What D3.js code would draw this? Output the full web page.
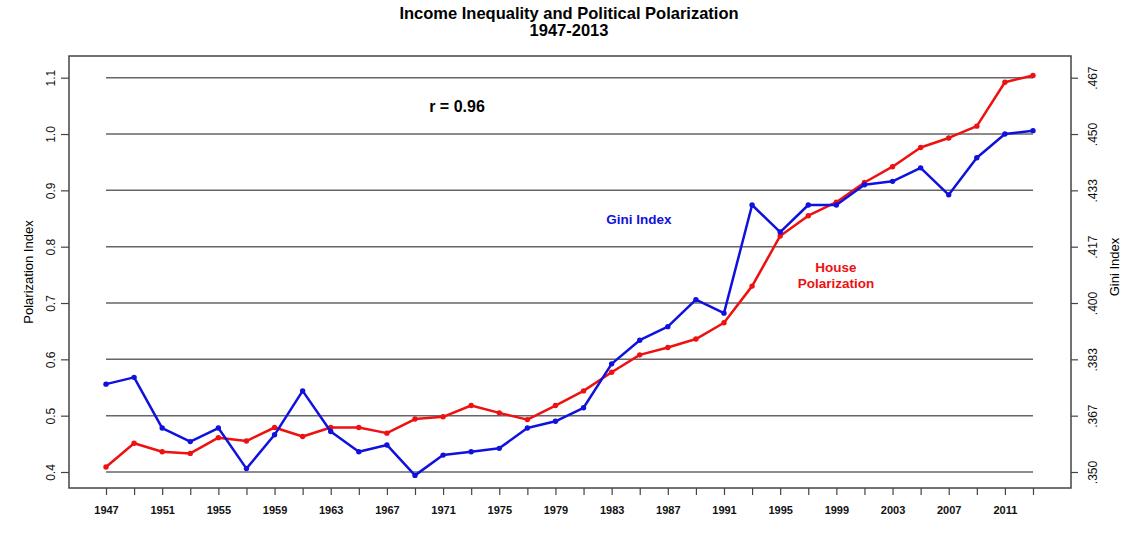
<!DOCTYPE html>
<html>
<head>
<meta charset="utf-8">
<script src="https://cdn.jsdelivr.net/npm/d3@7"></script>
<style>
  body { margin: 0; background: #fff; }
  text { font-family: "Liberation Sans", Arial, sans-serif; }
</style>
</head>
<body>
<div class="container"></div>
<script>
// data
const years = d3.range(1947, 2014, 2);
const polarization = [
  0.409, 0.451, 0.436, 0.433, 0.461, 0.455, 0.479, 0.463, 0.479, 0.479,
  0.469, 0.494, 0.498, 0.518, 0.505, 0.493, 0.518, 0.544, 0.577, 0.608,
  0.621, 0.636, 0.665, 0.730, 0.819, 0.855, 0.879, 0.914, 0.942, 0.976,
  0.993, 1.014, 1.092, 1.104
];
const gini = [
  0.376, 0.378, 0.363, 0.359, 0.363, 0.351, 0.361, 0.374, 0.362, 0.356,
  0.358, 0.349, 0.355, 0.356, 0.357, 0.363, 0.365, 0.369, 0.382, 0.389,
  0.393, 0.401, 0.397, 0.429, 0.421, 0.429, 0.429, 0.435, 0.436, 0.440,
  0.432, 0.443, 0.450, 0.451
];
const leftTicks = [0.4, 0.5, 0.6, 0.7, 0.8, 0.9, 1.0, 1.1];
const rightTicks = [0.35, 0.35 + 1 / 60, 0.35 + 2 / 60, 0.4, 0.4 + 1 / 60, 0.4 + 2 / 60, 0.45, 0.45 + 1 / 60];
const rightLabels = [".350", ".367", ".383", ".400", ".417", ".433", ".450", ".467"];
const xTicks = d3.range(1947, 2014, 2);

const W = 1140, H = 558;
const box = { left: 69, right: 1071, top: 56, bottom: 488 };

const svg = d3.select(".container")
  .append("svg")
  .attr("width", W)
  .attr("height", H);

const x = d3.scaleLinear().domain([1947, 2013]).range([106, 1033]);
const yL = d3.scaleLinear().domain([0.4, 1.1]).range([472, 77.7]);
const yR = d3.scaleLinear().domain([0.35, 0.35 + 0.7 / 6]).range([472, 77.7]);

// grid lines
svg.selectAll("line.grid")
  .data(leftTicks)
  .enter()
  .append("line")
  .attr("class", "grid")
  .attr("x1", x(1947))
  .attr("x2", x(2013))
  .attr("y1", (d) => yL(d))
  .attr("y2", (d) => yL(d))
  .attr("stroke", "#666")
  .attr("stroke-width", 1.5);

// box
svg.append("rect")
  .attr("x", box.left)
  .attr("y", box.top)
  .attr("width", box.right - box.left)
  .attr("height", box.bottom - box.top)
  .attr("fill", "none")
  .attr("stroke", "#444")
  .attr("stroke-width", 1.5);

let styleAxis = (g) => {
  g.select(".domain").remove();
  g.selectAll(".tick line").attr("stroke", "#444").attr("stroke-width", 1.2);
};

// bottom axis
let xAxis = svg.append("g")
  .attr("transform", `translate(0,${box.bottom})`)
  .call(d3.axisBottom(x).tickValues(xTicks).tickSize(7)
    .tickFormat((d) => ((d - 1947) % 4 === 0 && d < 2013 ? d : "")));
styleAxis(xAxis);
xAxis.selectAll(".tick text")
  .attr("y", 18)
  .attr("fill", "#111")
  .style("font-size", "11px")
  .style("font-weight", "bold");

// left axis
let lAxis = svg.append("g")
  .attr("transform", `translate(${box.left},0)`)
  .call(d3.axisLeft(yL).tickValues(leftTicks).tickSize(8).tickFormat(d3.format(".1f")));
styleAxis(lAxis);
lAxis.selectAll(".tick text")
  .attr("x", 0)
  .attr("dy", 0)
  .attr("transform", "translate(-14,0) rotate(-90)")
  .attr("text-anchor", "middle")
  .attr("fill", "#111")
  .style("font-size", "12px");

// right axis
let rAxis = svg.append("g")
  .attr("transform", `translate(${box.right},0)`)
  .call(d3.axisRight(yR).tickValues(rightTicks).tickSize(7)
    .tickFormat((d, i) => rightLabels[i]));
styleAxis(rAxis);
rAxis.selectAll(".tick text")
  .attr("x", 0)
  .attr("dy", 0)
  .attr("transform", "translate(26,0) rotate(-90)")
  .attr("text-anchor", "middle")
  .attr("fill", "#111")
  .style("font-size", "12px");

// axis titles
svg.append("text")
  .attr("transform", `translate(33,${(box.top + box.bottom) / 2}) rotate(-90)`)
  .attr("text-anchor", "middle")
  .style("font-size", "13px")
  .text("Polarization Index");

svg.append("text")
  .attr("transform", `translate(1119,${(box.top + box.bottom) / 2 - 5}) rotate(-90)`)
  .attr("text-anchor", "middle")
  .style("font-size", "13px")
  .text("Gini Index");

// title
svg.append("text")
  .attr("x", 569).attr("y", 19)
  .attr("text-anchor", "middle")
  .style("font-size", "16.5px").style("font-weight", "bold")
  .text("Income Inequality and Political Polarization");
svg.append("text")
  .attr("x", 569).attr("y", 36)
  .attr("text-anchor", "middle")
  .style("font-size", "16.5px").style("font-weight", "bold")
  .text("1947-2013");

// lines
let drawSeries = (vals, scale, color) => {
  let pts = years.map((yr, i) => [x(yr), scale(vals[i])]);
  svg.append("path")
    .attr("d", d3.line()(pts))
    .attr("fill", "none")
    .attr("stroke", color)
    .attr("stroke-width", 2.5)
    .attr("stroke-linejoin", "round");
  svg.append("g")
    .selectAll("circle")
    .data(pts)
    .enter()
    .append("circle")
    .attr("cx", (d) => d[0])
    .attr("cy", (d) => d[1])
    .attr("r", 2.7)
    .attr("fill", color);
};

drawSeries(polarization, yL, "#ee1111");
drawSeries(gini, yR, "#1111dd");

// annotations
svg.append("text")
  .attr("x", 457).attr("y", 112)
  .attr("text-anchor", "middle")
  .style("font-size", "16px").style("font-weight", "bold")
  .text("r = 0.96");

svg.append("text")
  .attr("x", 639).attr("y", 224)
  .attr("text-anchor", "middle")
  .attr("fill", "#1111dd")
  .style("font-size", "13.5px").style("font-weight", "bold")
  .text("Gini Index");

svg.append("text")
  .attr("x", 836).attr("y", 272)
  .attr("text-anchor", "middle")
  .attr("fill", "#ee1111")
  .style("font-size", "13.5px").style("font-weight", "bold")
  .text("House");
svg.append("text")
  .attr("x", 836).attr("y", 288)
  .attr("text-anchor", "middle")
  .attr("fill", "#ee1111")
  .style("font-size", "13.5px").style("font-weight", "bold")
  .text("Polarization");
</script>
</body>
</html>
